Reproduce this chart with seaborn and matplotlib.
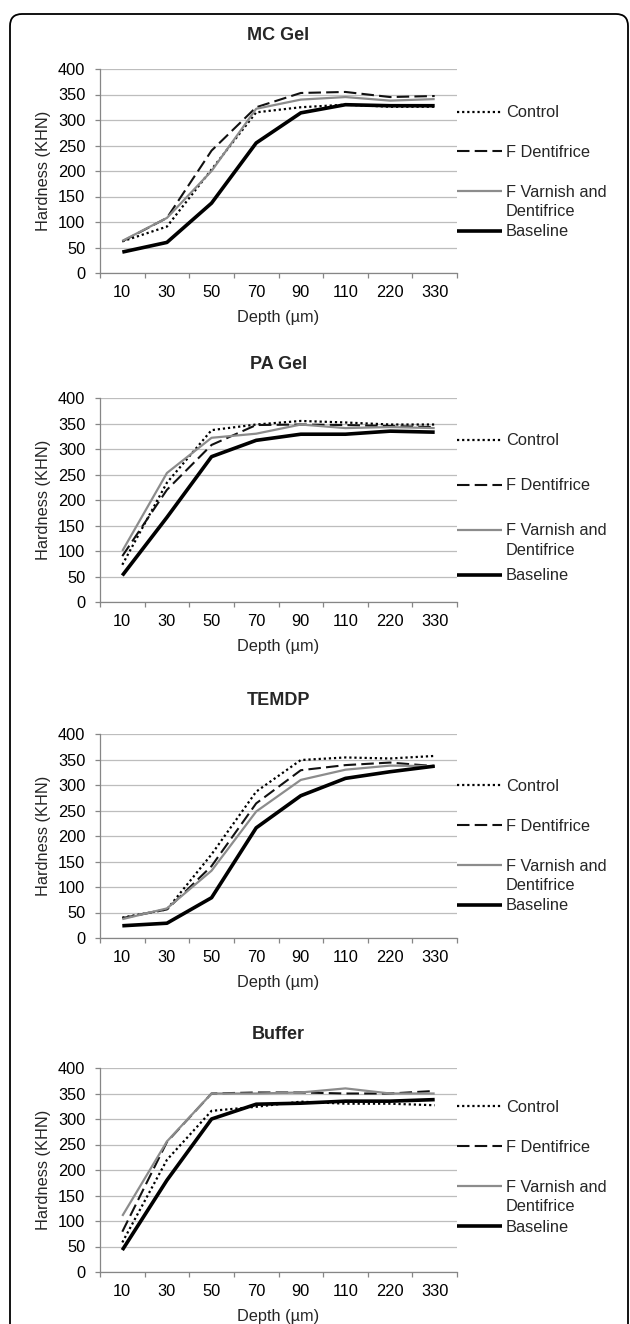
import numpy as np
import pandas as pd
import matplotlib.pyplot as plt
import seaborn as sns
from matplotlib.patches import FancyBboxPatch
from matplotlib.ticker import FixedLocator, MultipleLocator

# ── Data (Knoop hardness vs depth) ───────────────────────────────────────────
DEPTHS = ["10", "30", "50", "70", "90", "110", "220", "330"]
GROUPS = ["Control", "F Dentifrice", "F Varnish and Dentifrice", "Baseline"]
PANELS = ["MC Gel", "PA Gel", "TEMDP", "Buffer"]

mc_control  = [62, 91, 203, 315, 325, 330, 326, 326]
mc_fdent    = [62, 108, 240, 325, 353, 355, 345, 347]
mc_varnish  = [63, 108, 200, 322, 340, 345, 338, 341]
mc_baseline = [41, 60, 137, 255, 314, 330, 328, 328]

pa_control  = [73, 234, 337, 348, 355, 352, 348, 348]
pa_fdent    = [90, 220, 308, 347, 348, 347, 345, 343]
pa_varnish  = [100, 253, 322, 330, 348, 341, 343, 341]
pa_baseline = [52, 166, 285, 317, 329, 329, 335, 333]

te_control  = [40, 56, 164, 287, 349, 354, 352, 357]
te_fdent    = [39, 56, 141, 264, 329, 339, 344, 337]
te_varnish  = [37, 58, 132, 248, 310, 330, 338, 337]
te_baseline = [24, 29, 79, 216, 279, 313, 326, 337]

bu_control  = [58, 220, 316, 324, 334, 330, 330, 327]
bu_fdent    = [79, 255, 350, 352, 352, 350, 350, 355]
bu_varnish  = [110, 256, 350, 350, 352, 360, 350, 350]
bu_baseline = [43, 180, 300, 329, 331, 335, 335, 338]

PANEL_DATA = {
    "MC Gel": [mc_control, mc_fdent, mc_varnish, mc_baseline],
    "PA Gel": [pa_control, pa_fdent, pa_varnish, pa_baseline],
    "TEMDP":  [te_control, te_fdent, te_varnish, te_baseline],
    "Buffer": [bu_control, bu_fdent, bu_varnish, bu_baseline],
}

rows = []
for panel, series in PANEL_DATA.items():
    for group, vals in zip(GROUPS, series):
        for i, v in enumerate(vals):
            rows.append({"panel": panel, "group": group, "pos": i, "hardness": v})
df = pd.DataFrame(rows)

# ── Style ────────────────────────────────────────────────────────────────────
sns.set_theme(style="white")
plt.rcParams["font.family"] = ["Liberation Sans", "DejaVu Sans"]
FS = 11.8

palette = {"Control": "#000000", "F Dentifrice": "#111111",
           "F Varnish and Dentifrice": "#8c8c8c", "Baseline": "#000000"}
dashes  = {"Control": (1, 1.3), "F Dentifrice": (6, 2.5),
           "F Varnish and Dentifrice": "", "Baseline": ""}
sizes   = {"Control": 1.6, "F Dentifrice": 1.5,
           "F Varnish and Dentifrice": 1.6, "Baseline": 2.6}

W, H = 630, 1324
fig = plt.figure(figsize=(W / 100, H / 100), dpi=100)

AX_LEFT, AX_RIGHT = 100, 457
AX_TOPS = [69, 398, 734, 1068]
AX_H = 204
LEG_CENTER = [0.493, 0.459, 0.450, 0.512]
LEG_STEP = [41.7, 47.0, 41.7, 41.9]

fs_px = FS * 100 / 72
for k, panel in enumerate(PANELS):
    top = AX_TOPS[k]
    ax = fig.add_axes([AX_LEFT / W, 1 - (top + AX_H) / H,
                       (AX_RIGHT - AX_LEFT) / W, AX_H / H])
    sub = df[df["panel"] == panel]
    sns.lineplot(data=sub, x="pos", y="hardness", hue="group", style="group",
                 size="group", hue_order=GROUPS, style_order=GROUPS,
                 size_order=GROUPS, palette=palette, dashes=dashes,
                 sizes=sizes, legend=False, ax=ax)
    for ln in ax.get_lines():
        ln.set_solid_capstyle("butt")
        ln.set_dash_capstyle("butt")

    ax.set_xlim(-0.5, len(DEPTHS) - 0.5)
    ax.set_ylim(0, 400)
    ax.yaxis.set_major_locator(MultipleLocator(50))
    ax.grid(axis="y", color="#bdbdbd", lw=0.9)
    ax.grid(axis="x", visible=False)
    ax.set_axisbelow(True)

    ax.set_xticks(range(len(DEPTHS)))
    ax.set_xticklabels(DEPTHS)
    ax.xaxis.set_minor_locator(FixedLocator(np.arange(-0.5, len(DEPTHS), 1.0)))
    ax.tick_params(axis="x", which="major", length=0, pad=8.5, labelsize=FS,
                   colors="#000000")
    ax.tick_params(axis="x", which="minor", length=3.6, width=0.9,
                   color="#868686", direction="out", bottom=True)
    ax.tick_params(axis="y", length=3.6, width=0.9, color="#868686",
                   direction="out", left=True, pad=7, labelsize=FS,
                   labelcolor="#000000")

    for side in ["top", "right"]:
        ax.spines[side].set_visible(False)
    for side in ["left", "bottom"]:
        ax.spines[side].set_color("#868686")
        ax.spines[side].set_linewidth(0.9)

    ax.set_xlabel("Depth (\u00b5m)", fontsize=FS, labelpad=7)
    ax.set_ylabel("Hardness (KHN)", fontsize=FS, labelpad=5)
    ax.set_title(panel, fontsize=13, fontweight="bold", pad=21)

    handles = ax.get_lines()[:len(GROUPS)]
    labels = ["Control", "F Dentifrice", "F Varnish and", "Baseline"]
    leg = ax.legend(handles, labels, loc="center left",
                    bbox_to_anchor=(0.999, LEG_CENTER[k]), frameon=False,
                    fontsize=FS, borderpad=0, borderaxespad=0,
                    handlelength=45 / fs_px, handletextpad=0.25,
                    labelspacing=(LEG_STEP[k] - 17.0) / fs_px)
    # second line of the two-line label, hanging under the first one
    ax.annotate("Dentifrice", xy=(0, 0), xycoords=leg.get_texts()[2],
                xytext=(0, -3), textcoords="offset points",
                ha="left", va="top", fontsize=FS, zorder=10,
                annotation_clip=False)

# rounded frame around the whole figure, open at the bottom
frame = FancyBboxPatch((0.10, -0.3), 6.18, 13.40,
                       boxstyle="round,pad=0,rounding_size=0.12",
                       transform=fig.dpi_scale_trans, fill=False,
                       ec="#000000", lw=1.3)
fig.add_artist(frame)

fig.canvas.draw()
fig.savefig("out.png", dpi=100)
plt.close(fig)
